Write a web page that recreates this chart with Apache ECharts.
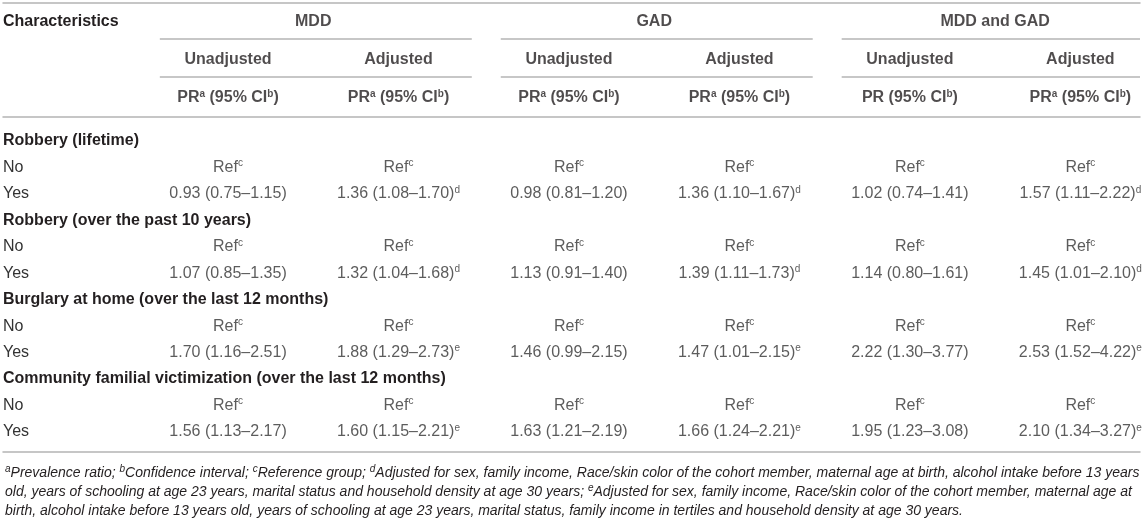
<!DOCTYPE html>
<html>
<head>
<meta charset="utf-8">
<script src="https://cdn.jsdelivr.net/npm/echarts@6/dist/echarts.min.js"></script>
<style>
  html, body { margin: 0; padding: 0; background: #ffffff; }
  #chart { width: 1143px; height: 522px; }
</style>
</head>
<body>
<div id="chart"></div>
<script>
// ---------- data ----------
const groups = ['MDD', 'GAD', 'MDD and GAD'];
const subHeaders = ['Unadjusted', 'Adjusted', 'Unadjusted', 'Adjusted', 'Unadjusted', 'Adjusted'];
const statHeaders = ['PR^a (95% CI^b)', 'PR^a (95% CI^b)', 'PR^a (95% CI^b)', 'PR^a (95% CI^b)', 'PR (95% CI^b)', 'PR^a (95% CI^b)'];
const headerRows = ['Characteristics', 'Estimate', 'Statistic'];

const sections = [
  'Robbery (lifetime)',
  'Robbery (over the past 10 years)',
  'Burglary at home (over the last 12 months)',
  'Community familial victimization (over the last 12 months)'
];
const levels = ['No', 'Yes'];
const refLabel = 'Ref^c';

const mddUnadjusted  = ['0.93 (0.75–1.15)', '1.07 (0.85–1.35)', '1.70 (1.16–2.51)', '1.56 (1.13–2.17)'];
const mddAdjusted    = ['1.36 (1.08–1.70)^d', '1.32 (1.04–1.68)^d', '1.88 (1.29–2.73)^e', '1.60 (1.15–2.21)^e'];
const gadUnadjusted  = ['0.98 (0.81–1.20)', '1.13 (0.91–1.40)', '1.46 (0.99–2.15)', '1.63 (1.21–2.19)'];
const gadAdjusted    = ['1.36 (1.10–1.67)^d', '1.39 (1.11–1.73)^d', '1.47 (1.01–2.15)^e', '1.66 (1.24–2.21)^e'];
const bothUnadjusted = ['1.02 (0.74–1.41)', '1.14 (0.80–1.61)', '2.22 (1.30–3.77)', '1.95 (1.23–3.08)'];
const bothAdjusted   = ['1.57 (1.11–2.22)^d', '1.45 (1.01–2.10)^d', '2.53 (1.52–4.22)^e', '2.10 (1.34–3.27)^e'];

const footnoteLines = [
  '^aPrevalence ratio; ^bConfidence interval; ^cReference group; ^dAdjusted for sex, family income, Race/skin color of the cohort member, maternal age at birth, alcohol intake before 13 years',
  'old, years of schooling at age 23 years, marital status and household density at age 30 years; ^eAdjusted for sex, family income, Race/skin color of the cohort member, maternal age at',
  'birth, alcohol intake before 13 years old, years of schooling at age 23 years, marital status, family income in tertiles and household density at age 30 years.'
];

// ---------- build ----------
const columnValues = [mddUnadjusted, mddAdjusted, gadUnadjusted, gadAdjusted, bothUnadjusted, bothAdjusted];
const FONT = '"Liberation Sans", Arial, Helvetica, sans-serif';
const TEXT = '#231f20';
const BODY = '#333333';
const RULE = '#b4b4b4';
const xMin = -1.32, xMax = 5.35;

function sup(s) { return s.replace(/\^([a-z])/g, '{sup|$1}'); }

const bodyRows = [];
sections.forEach(function (s) {
  bodyRows.push(s);
  levels.forEach(function (l) { bodyRows.push(s + '|' + l); });
});

const headerCells = [];
groups.forEach(function (g, i) { headerCells.push({ value: [2 * i + 0.5, 0], text: g }); });
subHeaders.forEach(function (t, i) { headerCells.push({ value: [i, 1], text: t }); });
statHeaders.forEach(function (t, i) { headerCells.push({ value: [i, 2], text: t }); });

const bodyCells = [];
sections.forEach(function (s, si) {
  columnValues.forEach(function (col, ci) {
    bodyCells.push({ value: [ci, si * 3 + 1], text: refLabel });
    bodyCells.push({ value: [ci, si * 3 + 2], text: col[si] });
  });
});

const hiddenX = {
  type: 'value', min: xMin, max: xMax,
  axisLabel: { show: false }, axisTick: { show: false }, splitLine: { show: false }
};

const labelBase = {
  show: true, position: 'inside', color: TEXT, fontFamily: FONT, fontSize: 16, lineHeight: 18,
  rich: { sup: { fontSize: 10, lineHeight: 10, verticalAlign: 'top', fontFamily: FONT, color: TEXT } }
};

const chart = echarts.init(document.getElementById('chart'));
chart.setOption({
  animation: false,
  backgroundColor: '#ffffff',
  title: {
    left: 0, top: 459,
    text: footnoteLines.map(sup).join('\n'),
    textStyle: {
      fontFamily: FONT, fontSize: 14, fontStyle: 'italic', fontWeight: 'normal', color: TEXT, lineHeight: 19,
      rich: { sup: { fontSize: 10, lineHeight: 10, verticalAlign: 'top', fontStyle: 'italic', fontFamily: FONT, color: TEXT } }
    }
  },
  grid: [
    { left: 3, right: 3, top: 3, height: 114 },
    { left: 3, right: 3, top: 141, height: 291 }
  ],
  xAxis: [
    Object.assign({ gridIndex: 0, position: 'top', axisLine: { show: true, lineStyle: { color: RULE, width: 1.5 } } }, hiddenX),
    Object.assign({ gridIndex: 0, position: 'bottom', axisLine: { show: true, lineStyle: { color: RULE, width: 1.5 } } }, hiddenX),
    Object.assign({ gridIndex: 1, position: 'bottom', offset: 20, axisLine: { show: true, lineStyle: { color: RULE, width: 1.5 } } }, hiddenX)
  ],
  yAxis: [
    {
      gridIndex: 0, type: 'category', inverse: true, data: headerRows, boundaryGap: true,
      axisLine: { show: false }, axisTick: { show: false }, splitLine: { show: false },
      axisLabel: {
        inside: true, margin: 0, align: 'left', fontFamily: FONT, fontSize: 16, fontWeight: 'bold', color: TEXT,
        formatter: function (v, i) { return i === 0 ? v : ''; }
      }
    },
    {
      gridIndex: 1, type: 'category', inverse: true, data: bodyRows, boundaryGap: false,
      axisLine: { show: false }, axisTick: { show: false }, splitLine: { show: false },
      axisLabel: {
        inside: true, margin: 0, align: 'left', fontFamily: FONT, fontSize: 16, color: TEXT, interval: 0,
        formatter: function (v) {
          const p = v.split('|');
          return p.length > 1 ? '{n|' + p[1] + '}' : '{b|' + p[0] + '}';
        },
        rich: {
          b: { fontWeight: 'bold', fontFamily: FONT, fontSize: 16, color: TEXT },
          n: { fontWeight: 'normal', fontFamily: FONT, fontSize: 16, color: BODY }
        }
      }
    }
  ],
  series: [
    {
      type: 'custom', xAxisIndex: 0, yAxisIndex: 0, silent: true,
      data: groups.map(function (g, i) { return [i, 0]; }),
      encode: { x: 0, y: 1 },
      renderItem: function (params, api) {
        const g = api.value(0);
        const x0 = api.coord([2 * g - 0.4, 0])[0];
        const x1 = api.coord([Math.min(2 * g + 1.43, xMax), 0])[0];
        const band = api.size([0, 1])[1];
        const children = [0, 1].map(function (r) {
          const y = api.coord([0, r])[1] + band * 0.45;
          return { type: 'line', shape: { x1: x0, y1: y, x2: x1, y2: y }, style: { stroke: RULE, lineWidth: 1.5 } };
        });
        return { type: 'group', children: children };
      }
    },
    {
      type: 'scatter', xAxisIndex: 0, yAxisIndex: 0, silent: true,
      symbolSize: 1, itemStyle: { color: 'rgba(0,0,0,0)' },
      data: headerCells,
      label: Object.assign({}, labelBase, {
        fontWeight: 'bold',
        rich: { sup: { fontSize: 10, lineHeight: 10, verticalAlign: 'top', fontWeight: 'bold', fontFamily: FONT, color: TEXT } },
        formatter: function (p) { return sup(p.data.text); }
      })
    },
    {
      type: 'scatter', xAxisIndex: 2, yAxisIndex: 1, silent: true,
      symbolSize: 1, itemStyle: { color: 'rgba(0,0,0,0)' },
      data: bodyCells,
      label: Object.assign({}, labelBase, {
        color: BODY,
        rich: { sup: { fontSize: 10, lineHeight: 10, verticalAlign: 'top', fontFamily: FONT, color: BODY } },
        formatter: function (p) { return sup(p.data.text); }
      })
    }
  ]
});
</script>
</body>
</html>
